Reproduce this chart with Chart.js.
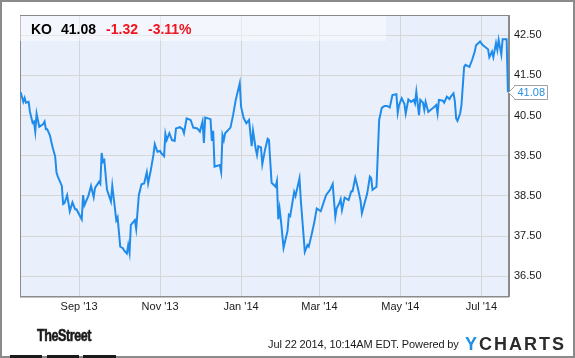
<!DOCTYPE html>
<html>
<head>
<meta charset="utf-8">
<title>KO 1 year</title>
<script src="https://cdn.jsdelivr.net/npm/chart.js"></script>
<style>
body{margin:0;background:#fff;font-family:'Liberation Sans',Arial,sans-serif}
#wrap{position:relative;width:575px;height:358px;overflow:hidden;background:#fff}
#frame{position:absolute;left:0;top:0;width:575px;height:358px;box-sizing:border-box;border:2px solid #8a8a8a}
canvas{position:absolute;left:0;top:0}
#band{position:absolute;left:20px;top:16px;width:366px;height:25px;background:rgba(255,255,255,0.45)}
#quote{position:absolute;left:31px;top:21.5px;font-size:14px;line-height:14px;font-weight:bold;white-space:nowrap;color:#000}
#quote .dn{color:#f0141e}
#street{position:absolute;left:37px;top:327.5px;font-weight:bold;font-size:17px;line-height:16px;letter-spacing:-0.6px;color:#1a1a1a;white-space:nowrap;transform:scaleX(0.74);transform-origin:0 0;-webkit-text-stroke:0.6px #1a1a1a}
.bar{position:absolute;top:355px;height:3px;background:#1a1a1a}
#stamp{position:absolute;left:268px;top:339px;font-size:11px;line-height:11px;letter-spacing:-0.12px;color:#1a1a1a;white-space:nowrap}
#ycharts{position:absolute;left:465px;top:334.8px;font-size:18px;line-height:18px;font-weight:bold;letter-spacing:2px;color:#2b2b2b;white-space:nowrap}
#ycharts .y{color:#1e8fe1}
</style>
</head>
<body>
<div id="wrap">
  <div id="frame"></div>
  <canvas id="myChart" width="575" height="358"></canvas>
  <div id="band"></div>
  <div id="quote"></div>
  <div id="street">TheStreet</div>
  <div class="bar" style="left:10px;width:32px"></div>
  <div class="bar" style="left:47px;width:32px"></div>
  <div class="bar" style="left:83px;width:33px"></div>
  <div id="stamp"></div>
  <div id="ycharts"><span class="y">Y</span>CHARTS</div>
</div>
<script>
var ticker = 'KO'
var lastPrice = 41.08
var change = -1.32
var changePct = -3.11
var stampText = 'Jul 22 2014, 10:14AM EDT. Powered by'

// days counted from Jul 22 2013
var days = [-3,-1,0,1,3,4,6,7,8,9,
    11,14,15,16,17,19,21,23,24,25,
    28,29,30,32,34,36,38,39,43,44,
    45,48,50,52,53,56,57,58,59,60,
    62,65,66,68,69,70,72,74,75,77,
    78,79,80,81,83,84,86,88,90,92,
    93,95,97,98,100,102,103,105,106,107,
    109,111,113,114,117,119,120,122,125,127,
    130,132,134,135,136,140,141,142,143,144,
    147,148,149,150,151,155,157,159,162,163,
    165,167,169,171,172,174,175,176,178,179,
    181,183,184,186,189,190,191,192,193,195,
    198,199,200,203,204,207,208,211,213,214,
    216,218,220,223,225,227,230,232,234,235,
    237,238,239,241,244,246,247,249,251,253,
    254,256,258,260,261,262,265,267,269,271,
    273,275,277,280,281,282,284,286,287,289,
    291,293,294,295,297,298,300,301,302,304,
    305,308,310,311,312,315,316,318,320,321,
    323,324,325,326,328,329,331,332,335,337,
    339,340,343,345,349,350,352,353,355,356,
    357,359,360,363,364]
var prices = [41.08,40.84,40.94,40.82,40.84,40.59,40.32,40.35,40.10,40.55,
    40.22,40.29,40.35,40.16,40.16,40.01,39.72,39.48,39.08,38.98,
    38.75,38.30,38.32,38.52,38.12,38.34,38.17,38.17,37.92,38.52,
    38.27,38.50,38.75,38.47,38.70,38.85,38.80,39.57,39.35,39.39,
    38.66,38.36,38.75,38.19,37.90,37.97,37.24,37.20,37.14,37.07,
    37.28,37.09,37.78,37.82,37.90,37.68,38.52,38.79,38.81,39.09,
    38.81,39.14,39.52,39.79,39.60,39.62,39.56,39.49,40.04,39.89,
    40.06,39.89,39.87,40.18,40.21,40.16,40.06,40.43,40.39,40.20,
    40.18,40.10,40.35,39.82,40.45,40.41,39.87,40.12,39.23,39.24,
    39.27,39.10,40.01,39.89,40.06,40.20,40.51,40.89,41.30,40.72,
    40.43,40.31,40.39,39.74,40.12,39.68,39.52,39.74,39.71,39.29,
    39.64,39.92,39.89,38.83,38.73,38.87,37.92,38.19,37.90,37.21,
    37.63,38.03,38.00,38.60,38.50,38.94,38.40,37.11,37.28,37.24,
    37.52,37.82,38.19,38.12,38.32,38.52,38.65,38.80,37.98,38.19,
    38.32,38.42,38.15,38.46,38.40,38.62,38.62,38.95,38.69,38.38,
    38.07,38.32,38.56,38.98,38.94,38.65,38.73,40.39,40.69,40.74,
    40.74,40.70,41.01,41.03,40.57,40.76,40.93,40.79,40.55,40.90,
    40.84,40.89,40.80,41.09,40.51,40.89,40.82,40.64,40.84,40.59,
    40.62,40.70,40.76,40.55,40.89,40.87,40.82,40.97,40.91,40.97,
    41.05,40.86,40.43,40.37,40.55,40.76,41.71,41.76,41.71,41.88,
    42.09,42.25,42.34,42.25,42.15,41.95,42.09,41.95,42.30,42.13,
    42.38,42.02,42.40,42.40,41.08]
var tickDays = [41, 102, 163, 222, 283, 344]
var tickLabels = ["Sep '13", "Nov '13", "Jan '14", "Mar '14", "May '14", "Jul '14"]
var priceTicks = [36.5, 37.5, 38.5, 39.5, 40.5, 41.5, 42.5]

document.getElementById('quote').innerHTML = ticker + '<span style="margin-left:9px">' + lastPrice.toFixed(2) + '</span>' +
    '<span class="dn" style="margin-left:10px">' + change.toFixed(2) + '</span>' +
    '<span class="dn" style="margin-left:10px">' + changePct.toFixed(2) + '%</span>'
document.getElementById('stamp').textContent = stampText

var points = []
for (var i = 0; i < days.length; i++) {
    points.push({x: days[i], y: prices[i]})
}

// light blue plot area with a grey frame
var plotBox = {
    id: 'plotBox',
    beforeDraw: function(chart) {
        var a = chart.chartArea, c = chart.ctx
        c.save()
        c.fillStyle = '#eaf0fb'
        c.fillRect(a.left, a.top, a.right - a.left, a.bottom - a.top)
        c.restore()
    },
    beforeDatasetsDraw: function(chart) {
        var a = chart.chartArea, c = chart.ctx
        c.save()
        c.strokeStyle = '#8a8a8a'
        c.lineWidth = 1
        c.strokeRect(a.left + 0.5, a.top + 0.5, a.right - a.left - 1, a.bottom - a.top)
        c.restore()
    }
}

// last price flag on the right axis
var priceFlag = {
    id: 'priceFlag',
    afterDraw: function(chart) {
        var c = chart.ctx
        var x = chart.chartArea.right
        var y = Math.round(chart.scales.y.getPixelForValue(prices[prices.length - 1])) + 0.5
        c.save()
        c.beginPath()
        c.moveTo(x - 0.5, y)
        c.lineTo(x + 5.5, y - 6)
        c.lineTo(x + 5.5, y - 7)
        c.lineTo(x + 38.5, y - 7)
        c.lineTo(x + 38.5, y + 7)
        c.lineTo(x + 5.5, y + 7)
        c.lineTo(x + 5.5, y + 6)
        c.closePath()
        c.fillStyle = '#fff'
        c.fill()
        c.strokeStyle = '#a0a0a0'
        c.lineWidth = 1
        c.stroke()
        c.fillStyle = '#2b8fe6'
        c.font = "11px 'Liberation Sans', Arial, sans-serif"
        c.textBaseline = 'middle'
        c.fillText(prices[prices.length - 1].toFixed(2), x + 8.5, y + 0.5)
        c.restore()
    }
}

Chart.defaults.font.family = "'Liberation Sans', Arial, sans-serif"

new Chart('myChart', {
    type: 'line',
    data: {
        datasets: [{
            data: points,
            borderColor: '#1f8ceb',
            borderWidth: 2,
            pointRadius: 0,
            tension: 0,
            fill: false
        }]
    },
    options: {
        responsive: false,
        animation: false,
        devicePixelRatio: 1,
        layout: {padding: {left: 20, top: 15, right: 0, bottom: 0}},
        plugins: {legend: {display: false}, tooltip: {enabled: false}},
        scales: {
            x: {
                type: 'linear',
                min: -3.5,
                max: 364.8,
                afterBuildTicks: function(scale) {
                    scale.ticks = tickDays.map(function(v) { return {value: v} })
                },
                afterFit: function(scale) { scale.height = 61.5 },
                grid: {color: '#d6d6d6', drawTicks: false},
                border: {color: '#8a8a8a'},
                ticks: {
                    autoSkip: false,
                    maxRotation: 0,
                    padding: 4,
                    color: '#1a1a1a',
                    font: {size: 11},
                    callback: function(v, i) { return tickLabels[i] }
                }
            },
            y: {
                position: 'right',
                min: 36,
                max: 43,
                afterBuildTicks: function(scale) {
                    scale.ticks = priceTicks.map(function(v) { return {value: v} })
                },
                afterFit: function(scale) { scale.width = 66 },
                grid: {color: '#d6d6d6', drawTicks: false},
                border: {color: '#8a8a8a'},
                ticks: {
                    padding: 5,
                    color: '#1a1a1a',
                    font: {size: 11},
                    callback: function(v) { return v.toFixed(2) }
                }
            }
        }
    },
    plugins: [plotBox, priceFlag]
})
</script>
</body>
</html>
